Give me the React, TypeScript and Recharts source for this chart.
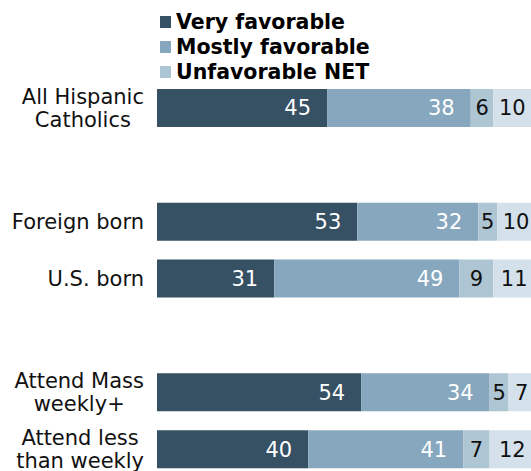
import { BarChart, Bar, XAxis, YAxis, Legend, LabelList } from "recharts";

// rows, with blank spacer rows between the groups
const categories = [
  "All Hispanic\nCatholics",
  "",
  "Foreign born",
  "U.S. born",
  "",
  "Attend Mass\nweekly+",
  "Attend less\nthan weekly",
];
const veryFavorable = [45, null, 53, 31, null, 54, 40];
const mostlyFavorable = [38, null, 32, 49, null, 34, 41];
const unfavorableNet = [6, null, 5, 9, null, 5, 7];
const other = [10, null, 10, 11, null, 7, 12];

const legendLabels = ["Very favorable", "Mostly favorable", "Unfavorable NET"];
const colors = ["#365064", "#86a7bd", "#aec5d4", "#d4e1ea"];

const FONT = "'DejaVu Sans', Verdana, sans-serif";
const LABEL_SIZE = 21;

const data = categories.map((c, i) => ({
  id: "row" + i,
  label: c,
  very: veryFavorable[i],
  mostly: mostlyFavorable[i],
  unfav: unfavorableNet[i],
  other: other[i],
}));

let ctx: CanvasRenderingContext2D | null = null;
const measure = (s: string) => {
  if (!ctx) ctx = document.createElement("canvas").getContext("2d");
  if (!ctx) return s.length * 10;
  ctx.font = `${LABEL_SIZE}px ${FONT}`;
  return ctx.measureText(s).width;
};

const CategoryTick = (props: any) => {
  const { y, payload } = props;
  const row = data.find((d) => d.id === payload.value);
  if (!row || !row.label) return null;
  const lines = row.label.split("\n");
  const w = Math.max(...lines.map(measure));
  const cx = 144 - w / 2;
  const start = 7 - ((lines.length - 1) * 23.4) / 2;
  return (
    <text x={cx} y={y} textAnchor="middle" fontSize={LABEL_SIZE} fontFamily={FONT} fill="#111">
      {lines.map((l: string, i: number) => (
        <tspan key={i} x={cx} y={y + start + i * 23.4}>
          {l}
        </tspan>
      ))}
    </text>
  );
};

const LegendBox = () => (
  <div style={{ fontFamily: FONT, fontWeight: "bold", fontSize: 20.5 }}>
    {legendLabels.map((l, i) => (
      <div key={l} style={{ display: "flex", alignItems: "center", height: 25, whiteSpace: "nowrap" }}>
        <span style={{ display: "inline-block", width: 11, height: 12, background: colors[i], marginRight: 5 }} />
        <span style={{ color: "#000" }}>{l}</span>
      </div>
    ))}
  </div>
);

const App = () => {
  return (
    <div style={{ position: "absolute", left: 0, top: 0, width: 531, height: 471, overflow: "hidden", background: "#fff" }}>
      <BarChart
        width={535}
        height={478}
        data={data}
        layout="vertical"
        margin={{ top: 80, right: 0, left: 0, bottom: 0 }}
      >
        <XAxis type="number" domain={[0, 100]} hide />
        <YAxis
          type="category"
          dataKey="id"
          width={157}
          axisLine={false}
          tickLine={false}
          tick={<CategoryTick />}
          interval={0}
        />
        <Legend
          layout="horizontal"
          verticalAlign="middle"
          align="center"
          wrapperStyle={{ top: 9, left: 160, width: "auto", height: "auto" }}
          content={<LegendBox />}
        />
        <Bar dataKey="very" stackId="a" fill={colors[0]} barSize={38} isAnimationActive={false}>
          <LabelList dataKey="very" position="insideRight" offset={16} fill="#fff" fontSize={LABEL_SIZE} fontFamily={FONT} />
        </Bar>
        <Bar dataKey="mostly" stackId="a" fill={colors[1]} barSize={38} isAnimationActive={false}>
          <LabelList dataKey="mostly" position="insideRight" offset={16} fill="#fff" fontSize={LABEL_SIZE} fontFamily={FONT} />
        </Bar>
        <Bar dataKey="unfav" stackId="a" fill={colors[2]} barSize={38} isAnimationActive={false}>
          <LabelList dataKey="unfav" position="center" fill="#111" fontSize={LABEL_SIZE} fontFamily={FONT} />
        </Bar>
        <Bar dataKey="other" stackId="a" fill={colors[3]} barSize={38} isAnimationActive={false}>
          <LabelList dataKey="other" position="center" fill="#111" fontSize={LABEL_SIZE} fontFamily={FONT} />
        </Bar>
      </BarChart>
    </div>
  );
};

export default App;
